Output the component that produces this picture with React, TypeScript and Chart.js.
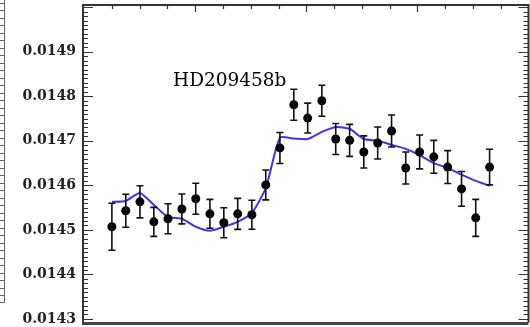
import React, { useEffect, useRef } from 'react';
import { Chart, registerables } from 'chart.js';

Chart.register(...registerables);

const TITLE = 'HD209458b';

// x positions of the spectral channels (axis units, one top tick per unit)
const X_POS = [0, 0.5, 1.01, 1.51, 2.02, 2.52, 3.02, 3.53, 4.03, 4.53, 5.04, 5.54, 6.05, 6.55, 7.05, 7.56, 8.06, 8.56, 9.07, 9.57, 10.07, 10.58, 11.08, 11.59, 12.09, 12.59, 13.1, 13.6];

// observed transit depth
const OBSERVED = [0.014507, 0.014543, 0.014563, 0.014518, 0.014525, 0.014547, 0.01457, 0.014536, 0.014516, 0.014536, 0.014534, 0.014601, 0.014684, 0.014781, 0.014751, 0.01479, 0.014704, 0.014701, 0.014675, 0.014695, 0.014722, 0.014639, 0.014675, 0.014664, 0.014641, 0.014592, 0.014527, 0.014641];

// 1-sigma uncertainties
const ERRORS = [0.0000527, 0.000037, 0.000036, 0.0000325, 0.0000336, 0.0000336, 0.0000348, 0.0000325, 0.0000336, 0.0000348, 0.0000325, 0.0000336, 0.0000348, 0.0000348, 0.0000336, 0.0000348, 0.0000348, 0.000036, 0.000036, 0.000036, 0.000036, 0.000036, 0.000038, 0.000037, 0.000037, 0.000039, 0.0000415, 0.00004];

// model spectrum
const MODEL = [0.014563, 0.014565, 0.014583, 0.014556, 0.014529, 0.014525, 0.014507, 0.014498, 0.014507, 0.014518, 0.014538, 0.014594, 0.014707, 0.014705, 0.014704, 0.01472, 0.014731, 0.014727, 0.014704, 0.0147, 0.014691, 0.014682, 0.014668, 0.01465, 0.014639, 0.014624, 0.01461, 0.014599];

const Y_TICKS = [0.0143, 0.0144, 0.0145, 0.0146, 0.0147, 0.0148, 0.0149];
const X_TOP_TICKS = [0, 1, 2, 3, 4, 5, 6, 7, 8, 9, 10, 11, 12, 13, 14];
const X_TOP_MAJOR = [3, 7, 11];

const framePlugin = {
  id: 'frame',
  afterDatasetsDraw(chart: any) {
    const { ctx, scales } = chart;
    const x = scales.x;
    const y = scales.y;
    ctx.save();
    ctx.strokeStyle = '#111';
    ctx.lineWidth = 1.6;
    X_POS.forEach((xv, i) => {
      const px = x.getPixelForValue(xv);
      const top = y.getPixelForValue(OBSERVED[i] + ERRORS[i]);
      const bot = y.getPixelForValue(OBSERVED[i] - ERRORS[i]);
      ctx.beginPath();
      ctx.moveTo(px, top);
      ctx.lineTo(px, bot);
      ctx.moveTo(px - 3.5, top);
      ctx.lineTo(px + 3.5, top);
      ctx.moveTo(px - 3.5, bot);
      ctx.lineTo(px + 3.5, bot);
      ctx.stroke();
    });
    ctx.restore();
  },
  afterDraw(chart: any) {
    const { ctx, chartArea: a, scales } = chart;
    const x = scales.x;
    const y = scales.y;
    ctx.save();
    // frame
    ctx.strokeStyle = '#333';
    ctx.lineWidth = 2;
    ctx.beginPath();
    ctx.moveTo(a.left, a.bottom);
    ctx.lineTo(a.left, a.top);
    ctx.lineTo(a.right, a.top);
    ctx.lineTo(a.right, a.bottom);
    ctx.stroke();
    ctx.strokeStyle = '#444';
    ctx.lineWidth = 3;
    ctx.beginPath();
    ctx.moveTo(a.left - 1, a.bottom + 1);
    ctx.lineTo(a.right, a.bottom + 1);
    ctx.stroke();

    // y ticks (left and right, pointing inward)
    ctx.strokeStyle = '#333';
    ctx.lineWidth = 1.2;
    for (let k = 0; k <= 70; k++) {
      const v = 0.0143 + k * 0.00001;
      const py = Math.round(y.getPixelForValue(v)) + 0.5;
      const len = k % 10 === 0 ? 10 : 5;
      ctx.beginPath();
      ctx.moveTo(a.left, py);
      ctx.lineTo(a.left + len, py);
      ctx.moveTo(a.right, py);
      ctx.lineTo(a.right - len, py);
      ctx.stroke();
    }
    // top ticks
    X_TOP_TICKS.forEach((t) => {
      const px = Math.round(x.getPixelForValue(t)) + 0.5;
      const len = X_TOP_MAJOR.includes(t) ? 7 : 4;
      ctx.beginPath();
      ctx.moveTo(px, a.top);
      ctx.lineTo(px, a.top + len);
      ctx.stroke();
    });

    // neighbouring panel edge on the far left
    ctx.strokeStyle = '#666';
    ctx.lineWidth = 1;
    ctx.beginPath();
    ctx.moveTo(4.5, 0);
    ctx.lineTo(4.5, 302.5);
    ctx.lineTo(0, 302.5);
    for (let py = 2.5; py < 300; py += 7.5) {
      ctx.moveTo(0, Math.round(py) + 0.5);
      ctx.lineTo(4.5, Math.round(py) + 0.5);
    }
    ctx.stroke();

    // title
    ctx.fillStyle = '#000';
    ctx.font = '18.5px "DejaVu Serif"';
    ctx.textAlign = 'left';
    ctx.textBaseline = 'alphabetic';
    ctx.fillText(TITLE, a.left + 90, a.top + 81);
    ctx.restore();
  },
};

export default function App() {
  const ref = useRef<HTMLCanvasElement | null>(null);

  useEffect(() => {
    if (!ref.current) return;
    const chart = new Chart(ref.current, {
      type: 'scatter',
      data: {
        datasets: [
          {
            type: 'scatter',
            label: 'Observed',
            data: X_POS.map((xv, i) => ({ x: xv, y: OBSERVED[i] })),
            pointRadius: 4.5,
            pointHoverRadius: 4.5,
            backgroundColor: '#000',
            borderColor: '#000',
            borderWidth: 0,
            order: 1,
          },
          {
            type: 'line',
            label: 'Model',
            data: X_POS.map((xv, i) => ({ x: xv, y: MODEL[i] })),
            borderColor: '#4f2af0',
            borderWidth: 2,
            pointRadius: 0,
            tension: 0.2,
            fill: false,
            order: 2,
          },
        ],
      } as any,
      options: {
        animation: false,
        responsive: false,
        devicePixelRatio: 1,
        layout: { padding: { top: 5, bottom: 4, left: 0, right: 2 } },
        plugins: { legend: { display: false }, tooltip: { enabled: false } },
        scales: {
          x: {
            type: 'linear',
            display: false,
            min: -1.04,
            max: 15,
          },
          y: {
            type: 'linear',
            min: 0.014292,
            max: 0.015005,
            grid: { display: false, drawTicks: false },
            border: { display: false },
            afterBuildTicks: (scale: any) => {
              scale.ticks = Y_TICKS.map((v) => ({ value: v }));
            },
            afterFit: (scale: any) => {
              scale.width = 83;
              scale.paddingTop = 0;
              scale.paddingBottom = 0;
            },
            ticks: {
              padding: 7,
              color: '#222',
              font: { family: 'DejaVu Serif', size: 14, weight: 'bold' },
              callback: (v: any) => Number(v).toFixed(4),
            },
          },
        },
      } as any,
      plugins: [framePlugin],
    });
    return () => chart.destroy();
  }, []);

  return (
    <div style={{ position: 'fixed', left: 0, top: 0, width: 530, height: 327, overflow: 'hidden', background: '#fff' }}>
      <canvas ref={ref} width={533} height={327} style={{ width: 533, height: 327, display: 'block' }} />
    </div>
  );
}
